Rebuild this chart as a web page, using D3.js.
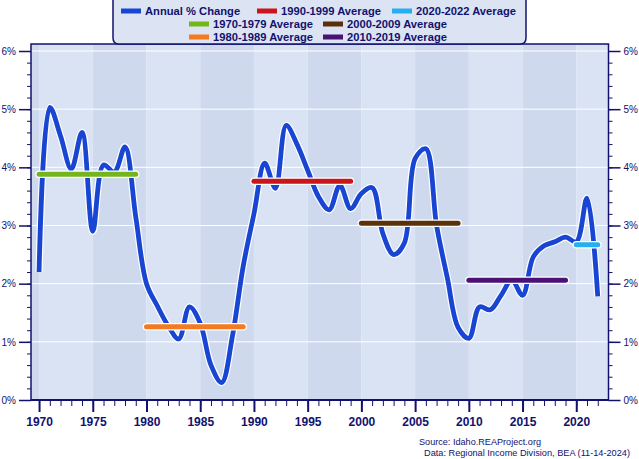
<!DOCTYPE html>
<html><head><meta charset="utf-8">
<script src="https://cdn.jsdelivr.net/npm/d3@7"></script>
<style>body{margin:0;background:#fff}svg{display:block}</style>
</head><body><svg id="c" width="639" height="459"></svg>
<script>
// ---- data ----
const years = d3.range(1970, 2023);
const annualChange = [
  2.20, 5.03, 4.54, 3.97, 4.60, 2.90, 4.04, 3.92, 4.35, 3.15,
  2.00, 1.62, 1.28, 1.05, 1.60, 1.32, 0.60, 0.30, 1.10, 2.30,
  3.20, 4.07, 3.64, 4.72, 4.40, 3.95, 3.50, 3.27, 3.69, 3.29,
  3.55, 3.65, 2.86, 2.50, 2.70, 4.15, 4.32, 3.00, 2.10, 1.25,
  1.06, 1.60, 1.55, 1.80, 2.06, 1.80, 2.46, 2.65, 2.72, 2.80,
  2.72, 3.47, 1.78
];
const avgLabels = ["1970-1979 Average","1980-1989 Average","1990-1999 Average","2000-2009 Average","2010-2019 Average","2020-2022 Average"];
const avgStart = [1970, 1980, 1990, 2000, 2010, 2020];
const avgEnd   = [1979, 1989, 1999, 2009, 2019, 2022];
const avgValues = [3.88, 1.26, 3.76, 3.04, 2.06, 2.67];
const yearTicks = [1970, 1975, 1980, 1985, 1990, 1995, 2000, 2005, 2010, 2015, 2020];
const pctTicks = [0, 1, 2, 3, 4, 5, 6];
const lineLabel = "Annual % Change";

// ---- styles ----
const navy = "#12126e";
const lineColor = "#1846d2";
const avgColors = ["#74b51b", "#f47a1f", "#c9161d", "#5a3108", "#4a1276", "#25aef0"];

const svg = d3.select("#c");
const L = 31, R = 608.5, T = 44, B = 400;
const x = d3.scaleLinear().domain([1969.25, 2023.0]).range([L, R]);
const y = d3.scaleLinear().domain([0, 6]).range([B, 51]);

// bands
const bandStarts = d3.range(1965, 2025, 5);
svg.append("g").selectAll("rect").data(bandStarts).join("rect")
  .attr("x", d => Math.max(L, x(d)))
  .attr("width", d => Math.min(R, x(d + 5)) - Math.max(L, x(d)))
  .attr("y", T).attr("height", B - T)
  .attr("fill", d => (d / 5) % 2 === 1 ? "#cfd9ee" : "#dae3f3");

// gridlines
svg.append("g").selectAll("line").data(pctTicks.filter(d => d > 0)).join("line")
  .attr("x1", L).attr("x2", R).attr("y1", d => y(d)).attr("y2", d => y(d))
  .attr("stroke", "#fff").attr("stroke-width", 1);

// frame
svg.append("rect").attr("x", L).attr("y", T).attr("width", R - L).attr("height", B - T)
  .attr("fill", "none").attr("stroke", navy).attr("stroke-width", 1.5);

// annual line with halo
const line = d3.line().x((d, i) => x(years[i])).y(d => y(d)).curve(d3.curveCatmullRom.alpha(0.5));
svg.append("path").datum(annualChange).attr("d", line)
  .attr("fill", "none").attr("stroke", "#fff").attr("stroke-width", 7.2).attr("stroke-linejoin", "round");
svg.append("path").datum(annualChange).attr("d", line)
  .attr("fill", "none").attr("stroke", lineColor).attr("stroke-width", 4.8).attr("stroke-linejoin", "round");

// averages
const avgIdx = d3.range(avgValues.length);
const ag = svg.append("g");
ag.selectAll("line.h").data(avgIdx).join("line").attr("class", "h")
  .attr("x1", i => x(avgStart[i])).attr("x2", i => x(avgEnd[i]))
  .attr("y1", i => y(avgValues[i])).attr("y2", i => y(avgValues[i]))
  .attr("stroke", "#fff").attr("stroke-width", 7.5).attr("stroke-linecap", "round");
ag.selectAll("line.c").data(avgIdx).join("line").attr("class", "c")
  .attr("x1", i => x(avgStart[i])).attr("x2", i => x(avgEnd[i]))
  .attr("y1", i => y(avgValues[i])).attr("y2", i => y(avgValues[i]))
  .attr("stroke", i => avgColors[i]).attr("stroke-width", 5).attr("stroke-linecap", "round");

// axes
function styleAxis(g) {
  g.select(".domain").remove();
  g.selectAll("line").attr("stroke", navy);
  g.selectAll("text").attr("fill", navy);
}
const minorPct = d3.range(0, 6.01, 0.2).map(d => +d.toFixed(1));
svg.append("g").attr("transform", `translate(${L},0)`)
  .call(d3.axisLeft(y).tickValues(minorPct).tickSize(4).tickFormat(""))
  .call(styleAxis);
svg.append("g").attr("transform", `translate(${L},0)`)
  .call(d3.axisLeft(y).tickValues(pctTicks).tickSize(12).tickPadding(3).tickFormat(d => d + "%"))
  .call(styleAxis)
  .call(g => g.selectAll("line").attr("stroke-width", 1.5))
  .call(g => g.selectAll("text").attr("font-family", "Liberation Sans, Arial, sans-serif").attr("font-size", 10));
svg.append("g").attr("transform", `translate(${R},0)`)
  .call(d3.axisRight(y).tickValues(minorPct).tickSize(4).tickFormat(""))
  .call(styleAxis);
svg.append("g").attr("transform", `translate(${R},0)`)
  .call(d3.axisRight(y).tickValues(pctTicks).tickSize(12).tickPadding(3).tickFormat(d => d + "%"))
  .call(styleAxis)
  .call(g => g.selectAll("line").attr("stroke-width", 1.5))
  .call(g => g.selectAll("text").attr("font-family", "Liberation Sans, Arial, sans-serif").attr("font-size", 10));
svg.append("g").attr("transform", `translate(0,${B})`)
  .call(d3.axisBottom(x).tickValues(years).tickSize(6).tickFormat(""))
  .call(styleAxis);
svg.append("g").attr("transform", `translate(0,${B})`)
  .call(d3.axisBottom(x).tickValues(yearTicks).tickSize(12).tickPadding(5).tickFormat(d3.format("d")))
  .call(styleAxis)
  .call(g => g.selectAll("line").attr("stroke-width", 2))
  .call(g => g.selectAll("text").attr("font-family", "Liberation Sans, Arial, sans-serif")
    .attr("font-size", 12).attr("font-weight", "bold"));
svg.append("line").attr("x1", L).attr("x2", R).attr("y1", B).attr("y2", B)
  .attr("stroke", navy).attr("stroke-width", 2);

// legend
const lg = svg.append("g");
lg.append("path")
  .attr("d", `M113,-2 L113,38 Q113,44 119,44 L520,44 Q526,44 526,38 L526,-2`)
  .attr("fill", "#dce4f3").attr("stroke", navy).attr("stroke-width", 1.5);
const legendItems = [
  {label: lineLabel, color: lineColor, x: 121, y: 11},
  {label: avgLabels[2], color: avgColors[2], x: 257, y: 11},
  {label: avgLabels[5], color: avgColors[5], x: 392, y: 11},
  {label: avgLabels[0], color: avgColors[0], x: 189, y: 24},
  {label: avgLabels[3], color: avgColors[3], x: 323, y: 24},
  {label: avgLabels[1], color: avgColors[1], x: 189, y: 37},
  {label: avgLabels[4], color: avgColors[4], x: 323, y: 37}
];
const li = lg.selectAll("g.item").data(legendItems).join("g").attr("class", "item")
  .attr("transform", d => `translate(${d.x},${d.y})`);
li.append("rect").attr("x", 0).attr("y", -2.5).attr("width", 20).attr("height", 5).attr("fill", d => d.color);
li.append("text").attr("x", 24).attr("y", 0).attr("dy", "0.36em")
  .attr("font-family", "Liberation Sans, Arial, sans-serif").attr("font-size", 11.2).attr("font-weight", "bold")
  .attr("fill", navy).text(d => d.label);

// source
svg.append("text").attr("x", 419).attr("y", 445).attr("textLength", 122).attr("lengthAdjust", "spacingAndGlyphs")
  .attr("font-family", "Liberation Sans Narrow, Liberation Sans, Arial, sans-serif").attr("font-size", 9.5)
  .attr("fill", navy).text("Source: Idaho.REAProject.org");
svg.append("text").attr("x", 424).attr("y", 456).attr("textLength", 206).attr("lengthAdjust", "spacingAndGlyphs")
  .attr("font-family", "Liberation Sans Narrow, Liberation Sans, Arial, sans-serif").attr("font-size", 9.5)
  .attr("fill", navy).text("Data: Regional Income Division, BEA (11-14-2024)");
</script></body></html>
